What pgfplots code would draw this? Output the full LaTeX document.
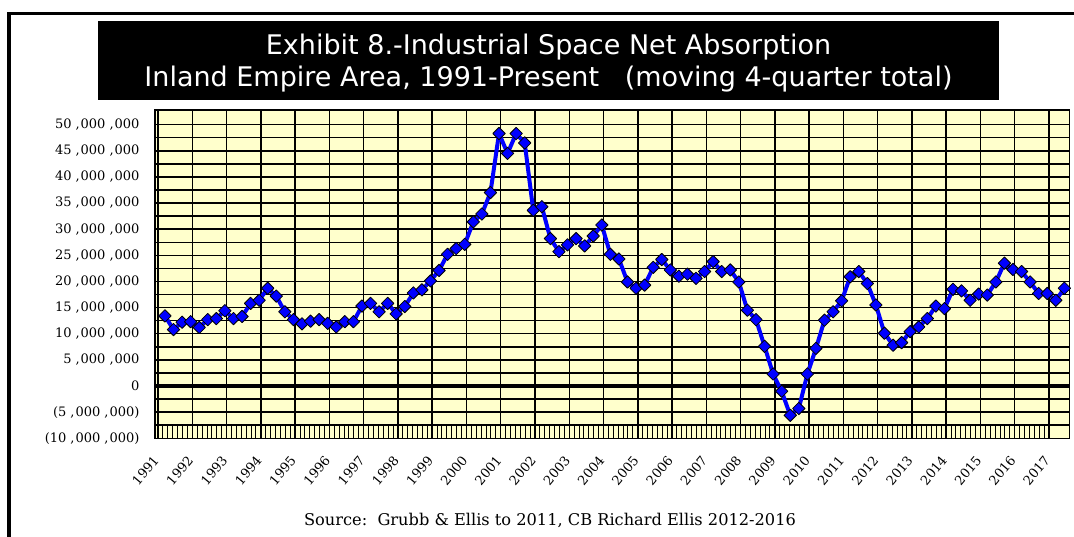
\documentclass[border=0pt]{standalone}
\usepackage{fontspec}
\usepackage{graphicx}
\usepackage{pgfplots}
\usepackage{pgfplotstable}
\pgfplotsset{compat=1.18}
\setmainfont{Liberation Serif}
\newfontfamily\tickfont{DejaVu Serif}
\newfontfamily\titlefont{DejaVu Sans}
\definecolor{plotbg}{RGB}{255,255,204}
\definecolor{lineblue}{RGB}{0,0,255}
\newcommand{\tc}{\kern4pt,\kern1pt}
\newcommand{\yr}[1]{\rotatebox{50}{#1}}

% quarterly index (0 = 1991 Q1) and moving 4-quarter total, millions of sq ft
\pgfplotstableread{
q v
0 13.4
1 10.8
2 12.2
3 12.3
4 11.2
5 12.7
6 12.9
7 14.4
8 12.9
9 13.3
10 15.8
11 16.4
12 18.7
13 17.2
14 14.2
15 12.7
16 11.9
17 12.4
18 12.7
19 12.0
20 11.3
21 12.3
22 12.3
23 15.3
24 15.8
25 14.2
26 15.8
27 13.8
28 15.2
29 17.8
30 18.4
31 20.1
32 22.1
33 25.2
34 26.3
35 27.1
36 31.4
37 32.9
38 37.0
39 48.3
40 44.5
41 48.3
42 46.5
43 33.6
44 34.3
45 28.2
46 25.7
47 27.0
48 28.2
49 26.8
50 28.7
51 30.8
52 25.2
53 24.3
54 19.9
55 18.7
56 19.3
57 22.7
58 24.2
59 22.2
60 21.0
61 21.4
62 20.6
63 21.9
64 23.8
65 21.9
66 22.2
67 19.9
68 14.5
69 12.7
70 7.6
71 2.3
72 -1.0
73 -5.6
74 -4.3
75 2.3
76 7.2
77 12.6
78 14.2
79 16.3
80 20.9
81 21.9
82 19.6
83 15.5
84 10.1
85 7.8
86 8.3
87 10.4
88 11.3
89 12.9
90 15.3
91 14.8
92 18.5
93 18.2
94 16.4
95 17.6
96 17.4
97 19.9
98 23.5
99 22.3
100 21.9
101 19.9
102 17.7
103 17.7
104 16.4
105 18.7
}\absorb

\begin{document}
\begin{tikzpicture}
\useasboundingbox[fill=white] (0,0) rectangle (1074pt,537pt);
% outer frame (top and left visible)
\draw[line width=3.5pt, black] (9pt,-5pt) -- (9pt,523.5pt) -- (1080pt,523.5pt);
% title box
\fill[black] (98pt,437pt) rectangle (999pt,516pt);
\node[white, font=\titlefont\fontsize{27}{27}\selectfont, anchor=base] at (548.5pt,482pt) {Exhibit 8.-Industrial Space Net Absorption};
\node[white, font=\titlefont\fontsize{27}{27}\selectfont, anchor=base] at (548.5pt,450pt) {Inland Empire Area, 1991-Present\ \ \ (moving 4-quarter total)};

\begin{axis}[
  at={(155pt,98.7pt)}, anchor=south west,
  scale only axis, width=914.5pt, height=328.3pt,
  xmin=1990.91, xmax=2017.6, ymin=-10, ymax=52.8,
  axis background/.style={fill=plotbg},
  axis line style={black, line width=1.5pt},
  xtick={1991,1992,1993,1994,1995,1996,1997,1998,1999,2000,2001,2002,2003,2004,2005,2006,2007,2008,2009,2010,2011,2012,2013,2014,2015,2016,2017},
  xticklabels={\yr{1991},\yr{1992},\yr{1993},\yr{1994},\yr{1995},\yr{1996},\yr{1997},\yr{1998},\yr{1999},\yr{2000},\yr{2001},\yr{2002},\yr{2003},\yr{2004},\yr{2005},\yr{2006},\yr{2007},\yr{2008},\yr{2009},\yr{2010},\yr{2011},\yr{2012},\yr{2013},\yr{2014},\yr{2015},\yr{2016},\yr{2017}},
  minor x tick num=6,
  xtick pos=left, ytick pos=left,
  tick align=inside,
  major tick length=12pt, minor tick length=12pt,
  xtick style={black, line width=1pt},
  ytick style={draw=none},
  ytick={-10,-5,0,5,10,15,20,25,30,35,40,45,50},
  minor y tick num=1,
  yticklabels={{(10\tc000\tc000)},{(5\tc000\tc000)},0,{5\tc000\tc000},{10\tc000\tc000},{15\tc000\tc000},{20\tc000\tc000},{25\tc000\tc000},{30\tc000\tc000},{35\tc000\tc000},{40\tc000\tc000},{45\tc000\tc000},{50\tc000\tc000}},
  xmajorgrids=true, ymajorgrids=true, yminorgrids=true, xminorgrids=false,
  major grid style={black, line width=1.5pt},
  minor grid style={black, line width=1.5pt},
  yticklabel style={font=\tickfont\fontsize{13}{13}\selectfont, anchor=east, xshift=-12pt},
  xticklabel style={font=\tickfont\fontsize{13}{13}\selectfont, anchor=north east, inner sep=0pt, yshift=-16pt, xshift=2pt},
]
\draw[line width=3.5pt, black] ([xshift=-13pt]axis cs:1990.91,0) -- (axis cs:2017.6,0);
\addplot[color=lineblue, line width=4pt, line join=round,
  mark=square*, mark size=4.4pt,
  mark options={rotate=45, fill=lineblue, draw=black, line width=0.8pt}]
  table[x expr=1991.2+0.25*\thisrow{q}, y=v] {\absorb};
\end{axis}

\node[font=\tickfont\fontsize{16.2}{16.2}\selectfont, anchor=base] at (550pt,11.3pt) {Source:\ \ Grubb \& Ellis to 2011, CB Richard Ellis 2012-2016};
\end{tikzpicture}
\end{document}
